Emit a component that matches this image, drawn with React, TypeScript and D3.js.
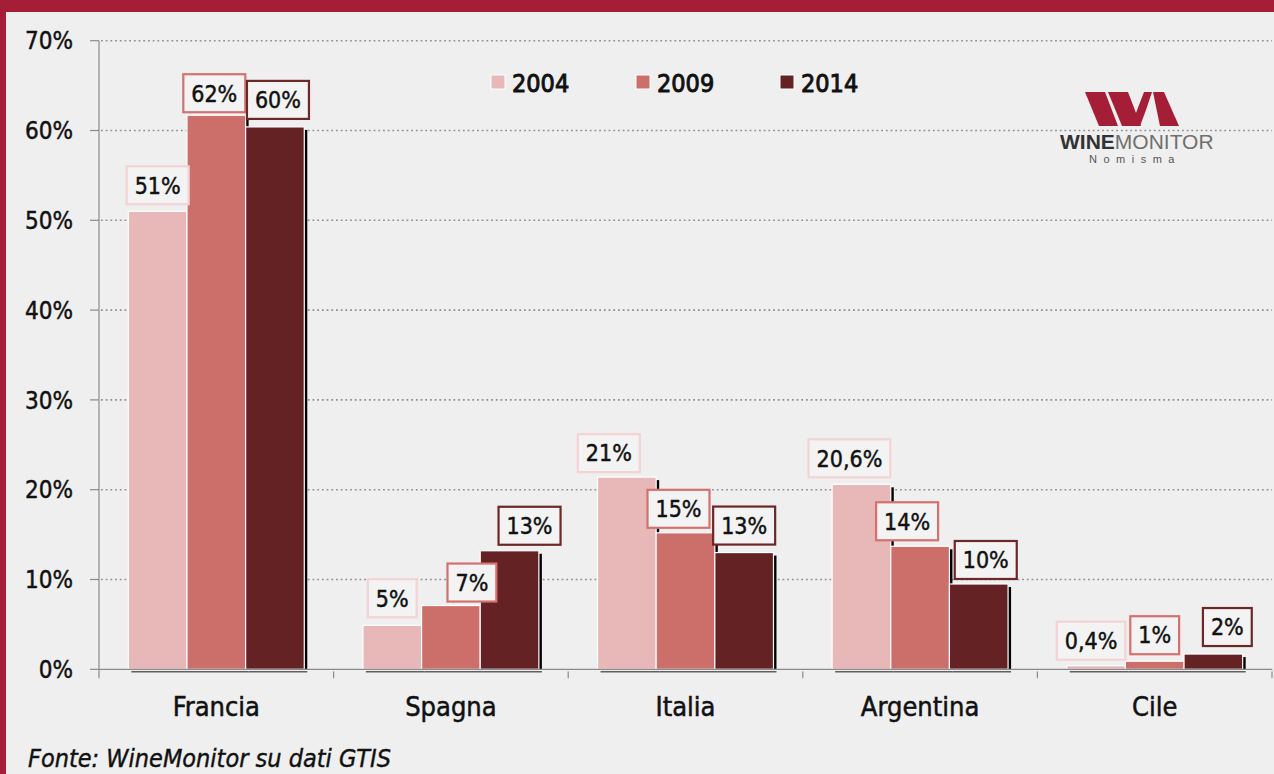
import React, { useEffect, useRef } from "react";
import * as d3 from "d3";

const categories = ["Francia", "Spagna", "Italia", "Argentina", "Cile"];
const seriesNames = ["2004", "2009", "2014"];
const values2004 = [51.0, 4.9, 21.4, 20.6, 0.4];
const values2009 = [61.7, 7.1, 15.2, 13.7, 0.9];
const values2014 = [60.4, 13.2, 13.0, 9.5, 1.7];
const labels2004 = ["51%", "5%", "21%", "20,6%", "0,4%"];
const labels2009 = ["62%", "7%", "15%", "14%", "1%"];
const labels2014 = ["60%", "13%", "13%", "10%", "2%"];
const yTicks = [0, 10, 20, 30, 40, 50, 60, 70];

// label nudges (layout only): [dx, dy] per series per category
const nudge2004 = [[0, -26], [0, -27], [-18, -24], [-12, -26], [-5, -25]];
const nudge2009 = [[-2, -22], [21, -23], [-7, -24], [-13, -25], [0, -26]];
const nudge2014 = [[3, -27], [20, -25], [0, -27], [7, -24], [14, -27]];

const COLORS = ["#e8b8b8", "#cc6e6a", "#642224"];
const BORDERS = ["#f3d3d3", "#d4716e", "#6c2727"];
const FONT = "'DejaVu Sans Condensed', 'DejaVu Sans', sans-serif";

export default function App() {
  const ref = useRef<SVGSVGElement | null>(null);

  useEffect(() => {
    const svg = d3.select(ref.current);
    svg.selectAll("*").remove();
    const W = 1274, H = 774;
    svg.append("rect").attr("width", W).attr("height", H).attr("fill", "#efefef");
    svg.append("rect").attr("x", 0).attr("y", 0).attr("width", W).attr("height", 12).attr("fill", "#a51e37");
    svg.append("rect").attr("x", 0).attr("y", 0).attr("width", 6).attr("height", H).attr("fill", "#a51e37");

    const left = 99, right = 1272, top = 40.7, bottom = 669.3;
    const x0 = d3.scaleBand<string>().domain(categories).range([left, right]).paddingInner(0).paddingOuter(0);
    const x1 = d3.scaleBand<string>().domain(seriesNames).range([0, x0.bandwidth()]).paddingInner(0).paddingOuter(0.5);
    const y = d3.scaleLinear().domain([0, 70]).range([bottom, top]);

    const heavy = (sel: any, w = 0.45) => sel.attr("stroke", "#111").attr("stroke-width", w).attr("paint-order", "stroke");

    // gridlines
    const g = svg.append("g");
    yTicks.filter((t) => t > 0).forEach((t) => {
      g.append("line")
        .attr("x1", left + 2).attr("x2", right).attr("y1", y(t)).attr("y2", y(t))
        .attr("stroke", "#8f8f8f").attr("stroke-width", 1.6).attr("stroke-dasharray", "1.8 2.9");
    });

    // logo
    const logo = svg.append("g");
    const polys = [
      [[1085, 92], [1105, 92], [1118, 126], [1099, 126]],
      [[1108, 92], [1128, 92], [1141, 126], [1122, 126]],
      [[1131, 126], [1144, 92], [1152, 92], [1146, 110], [1140, 126]],
      [[1153, 92], [1164, 92], [1179, 126], [1160, 126]],
    ];
    polys.forEach((p) => {
      logo.append("polygon").attr("points", p.map((q) => q.join(",")).join(" ")).attr("fill", "#a51e37");
    });
    const lt = logo.append("text").attr("x", 1060).attr("y", 149)
      .attr("font-family", "'Liberation Sans', Arial, sans-serif").attr("font-size", 21);
    lt.append("tspan").attr("font-weight", "bold").attr("fill", "#333").text("WINE");
    lt.append("tspan").attr("fill", "#6f6f6f").text("MONITOR");
    logo.append("text").attr("x", 1089).attr("y", 163)
      .attr("font-family", "'Liberation Sans', Arial, sans-serif").attr("font-size", 11)
      .attr("letter-spacing", 6.5).attr("fill", "#555").text("Nomisma");

    // axes
    const ax = svg.append("g");
    ax.append("line").attr("x1", left).attr("x2", left).attr("y1", top).attr("y2", bottom).attr("stroke", "#8a8a8a").attr("stroke-width", 1.2);
    yTicks.forEach((t) => {
      ax.append("line").attr("x1", left - 9).attr("x2", left).attr("y1", y(t)).attr("y2", y(t)).attr("stroke", "#8a8a8a").attr("stroke-width", 1.2);
      heavy(ax.append("text").attr("x", 73).attr("y", y(t)).attr("dy", "0.36em").attr("text-anchor", "end")
        .attr("font-family", FONT).attr("font-size", 24).attr("fill", "#111").text(`${t}%`));
    });
    const bounds = categories.map((c) => x0(c) as number).concat([right]);
    bounds.forEach((b) => {
      ax.append("line").attr("x1", b).attr("x2", b).attr("y1", bottom).attr("y2", bottom + 9).attr("stroke", "#8a8a8a").attr("stroke-width", 1.2);
    });
    categories.forEach((c) => {
      heavy(ax.append("text").attr("x", (x0(c) as number) + x0.bandwidth() / 2).attr("y", 706).attr("dy", "0.36em")
        .attr("text-anchor", "middle").attr("font-family", FONT).attr("font-size", 27).attr("fill", "#111").text(c), 0.5);
    });

    // bars
    const allVals = [values2004, values2009, values2014];
    const allLabels = [labels2004, labels2009, labels2014];
    const allNudges = [nudge2004, nudge2009, nudge2014];
    const bars = svg.append("g");
    categories.forEach((c, ci) => {
      seriesNames.forEach((s, si) => {
        const v = allVals[si][ci];
        const bx = (x0(c) as number) + (x1(s) as number);
        const bw = x1.bandwidth();
        const by = y(v);
        const bh = bottom - by;
        bars.append("rect").attr("x", bx + 3).attr("y", by + 3).attr("width", bw).attr("height", bh).attr("fill", "#000");
        bars.append("rect").attr("x", bx).attr("y", by).attr("width", bw).attr("height", bh)
          .attr("fill", COLORS[si]).attr("stroke", "#fff").attr("stroke-width", 1.2);
      });
    });
    svg.append("rect").attr("x", left + 1).attr("y", bottom + 0.6).attr("width", right - left).attr("height", 1.5).attr("fill", "#efefef");
    svg.append("line").attr("x1", left).attr("x2", right).attr("y1", bottom).attr("y2", bottom).attr("stroke", "#8a8a8a").attr("stroke-width", 1.2);

    // labels
    const lg = svg.append("g");
    categories.forEach((c, ci) => {
      seriesNames.forEach((s, si) => {
        const v = allVals[si][ci];
        const cx = (x0(c) as number) + (x1(s) as number) + x1.bandwidth() / 2 + allNudges[si][ci][0];
        const cy = y(v) + allNudges[si][ci][1];
        const grp = lg.append("g");
        const rect = grp.append("rect");
        const txt = grp.append("text").attr("x", cx).attr("y", cy).attr("dy", "0.36em").attr("text-anchor", "middle")
          .attr("font-family", FONT).attr("font-size", 23).attr("fill", "#111").text(allLabels[si][ci]);
        heavy(txt);
        const tw = (txt.node() as SVGTextElement).getComputedTextLength();
        const bwid = tw + 16, bh = 38;
        rect.attr("x", cx - bwid / 2).attr("y", cy - bh / 2).attr("width", bwid).attr("height", bh)
          .attr("fill", "#f3f3f3").attr("stroke", BORDERS[si]).attr("stroke-width", 2.2);
      });
    });

    // legend
    const legX = [491, 636, 780];
    seriesNames.forEach((s, si) => {
      svg.append("rect").attr("x", legX[si]).attr("y", 75).attr("width", 14).attr("height", 14)
        .attr("fill", COLORS[si]).attr("stroke", "#fff").attr("stroke-width", 1);
      heavy(svg.append("text").attr("x", legX[si] + 21).attr("y", 83).attr("dy", "0.36em")
        .attr("font-family", FONT).attr("font-size", 25).attr("fill", "#111").text(s), 0.9);
    });

    // footer
    heavy(svg.append("text").attr("x", 28).attr("y", 767).attr("font-family", FONT).attr("font-size", 25)
      .attr("font-style", "italic").attr("fill", "#111").text("Fonte: WineMonitor su dati GTIS"), 0.4);
  }, []);

  return (
    <svg ref={ref} width={1274} height={774} style={{ position: "fixed", left: 0, top: 0, display: "block" }} />
  );
}
